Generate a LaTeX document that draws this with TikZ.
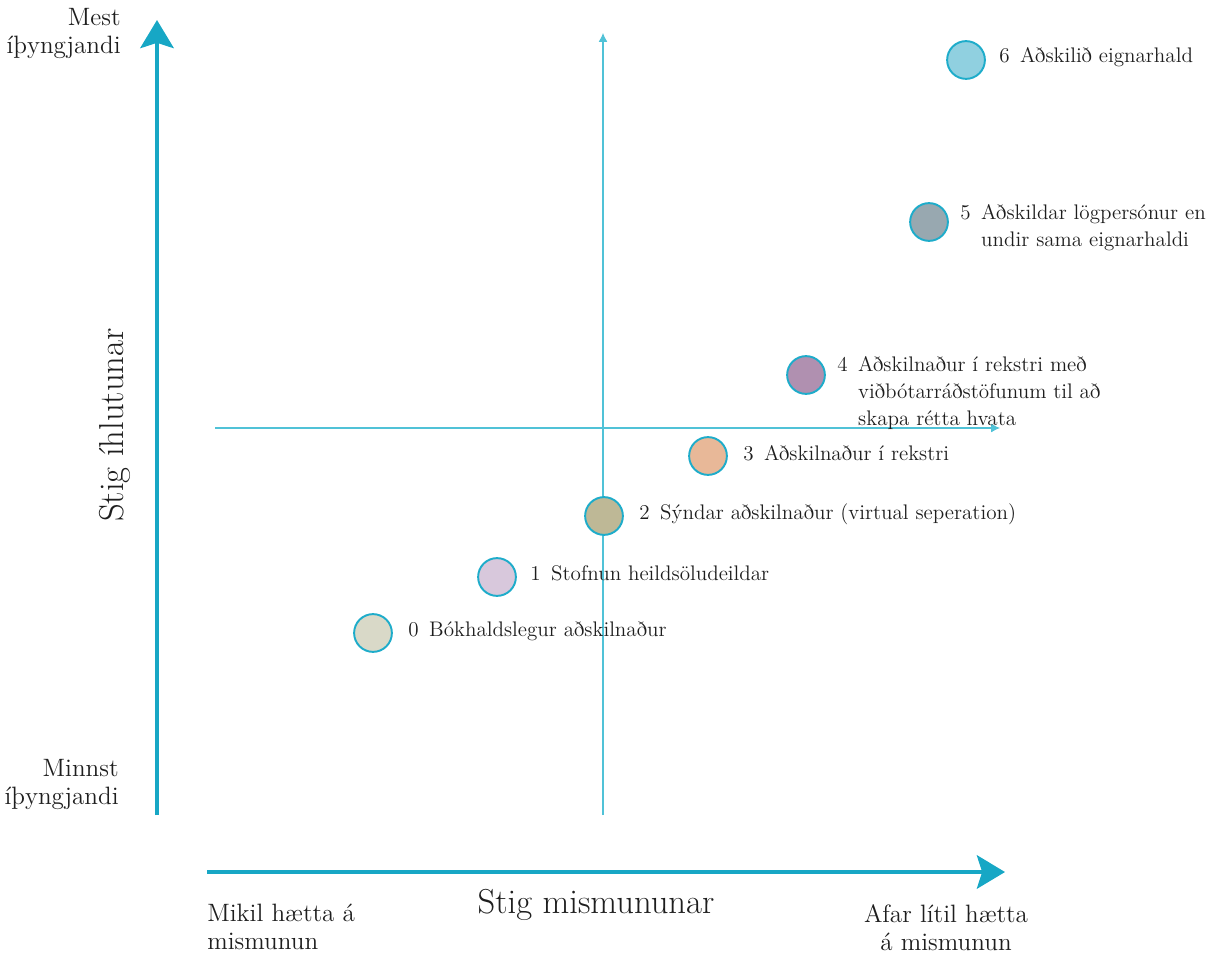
\documentclass[tikz,border=0pt]{standalone}
\usepackage{fontspec}
\usetikzlibrary{arrows.meta}
\definecolor{axisblue}{RGB}{23,167,197}
\definecolor{guideblue}{RGB}{80,194,215}
\definecolor{ringblue}{RGB}{30,172,202}
\definecolor{textgray}{RGB}{30,30,30}
\definecolor{fillzero}{RGB}{217,217,200}
\definecolor{fillone}{RGB}{216,200,220}
\definecolor{filltwo}{RGB}{190,184,150}
\definecolor{fillthree}{RGB}{232,184,152}
\definecolor{fillfour}{RGB}{176,144,176}
\definecolor{fillfive}{RGB}{152,168,176}
\definecolor{fillsix}{RGB}{144,208,224}
\newcommand{\gap}{\phantom{0}\enspace}
\tikzset{
	axis/.style = {color=axisblue, line width=2.3pt, -{Stealth[length=16pt, width=19pt, inset=3pt]}},
	guide/.style = {color=guideblue, line width=0.6pt, -{Latex[length=5pt, width=5pt]}},
	dot/.style = {circle, draw=ringblue, line width=1.1pt, minimum size=21.5pt, inner sep=0pt},
	lbl/.style = {inner sep=0pt, text=textgray, font=\fontsize{12}{15.3}\selectfont},
	corner/.style = {inner sep=0pt, text=textgray, font=\fontsize{14.3}{16}\selectfont},
	title/.style = {inner sep=0pt, text=textgray, font=\fontsize{19.7}{22}\selectfont}
}
\begin{document}
\begin{tikzpicture}[x=0.02cm, y=-0.02cm]
		\useasboundingbox (0,0) rectangle (1222,955);
		\coordinate (yb) at (157,815);
		\coordinate (yt) at (157,20);
		\coordinate (xl) at (207,872);
		\coordinate (xr) at (1005,872);
		\coordinate (vb) at (603,815);
		\coordinate (vt) at (603,33);
		\coordinate (hl) at (215,428);
		\coordinate (hr) at (1000,428);
		\path[guide] (vb) edge (vt) (hl) edge (hr);
		\path[axis] (yb) edge (yt) (xl) edge (xr);

		\node[dot, fill=fillzero] at (373,633)(0){};
		\node[dot, fill=fillone] at (497,577)(1){};
		\node[dot, fill=filltwo] at (604,516)(2){};
		\node[dot, fill=fillthree] at (708,456)(3){};
		\node[dot, fill=fillfour] at (806,375)(4){};
		\node[dot, fill=fillfive] at (929,222)(5){};
		\node[dot, fill=fillsix] at (966,60)(6){};

		\node[lbl, anchor=mid west] at (408,633)(l0){0\enspace Bókhaldslegur aðskilnaður};
		\node[lbl, anchor=mid west] at (530,577)(l1){1\enspace Stofnun heildsöludeildar};
		\node[lbl, anchor=mid west] at (639,516)(l2){2\enspace Sýndar aðskilnaður (virtual seperation)};
		\node[lbl, anchor=mid west] at (743,457)(l3){3\enspace Aðskilnaður í rekstri};
		\node[lbl, anchor=north west, align=left] at (837,356)(l4){4\enspace Aðskilnaður í rekstri með\\\gap viðbótarráðstöfunum til að\\\gap skapa rétta hvata};
		\node[lbl, anchor=north west, align=left] at (960,204)(l5){5\enspace Aðskildar lögpersónur en\\\gap undir sama eignarhaldi};
		\node[lbl, anchor=mid west] at (999,59)(l6){6\enspace Aðskilið eignarhald};

		\node[corner, anchor=north east, align=right] at (121,8)(most){Mest\\íþyngjandi};
		\node[corner, anchor=north east, align=right] at (119,759)(least){Minnst\\íþyngjandi};
		\node[corner, anchor=north west, align=left] at (207,904)(high){Mikil hætta á\\mismunun};
		\node[corner, anchor=north, align=center] at (946,904)(low){Afar lítil hætta\\á mismunun};

		\node[title, rotate=90] at (115,425)(ytitle){Stig íhlutunar};
		\node[title] at (596,905)(xtitle){Stig mismununar};
	\end{tikzpicture}
\end{document}
